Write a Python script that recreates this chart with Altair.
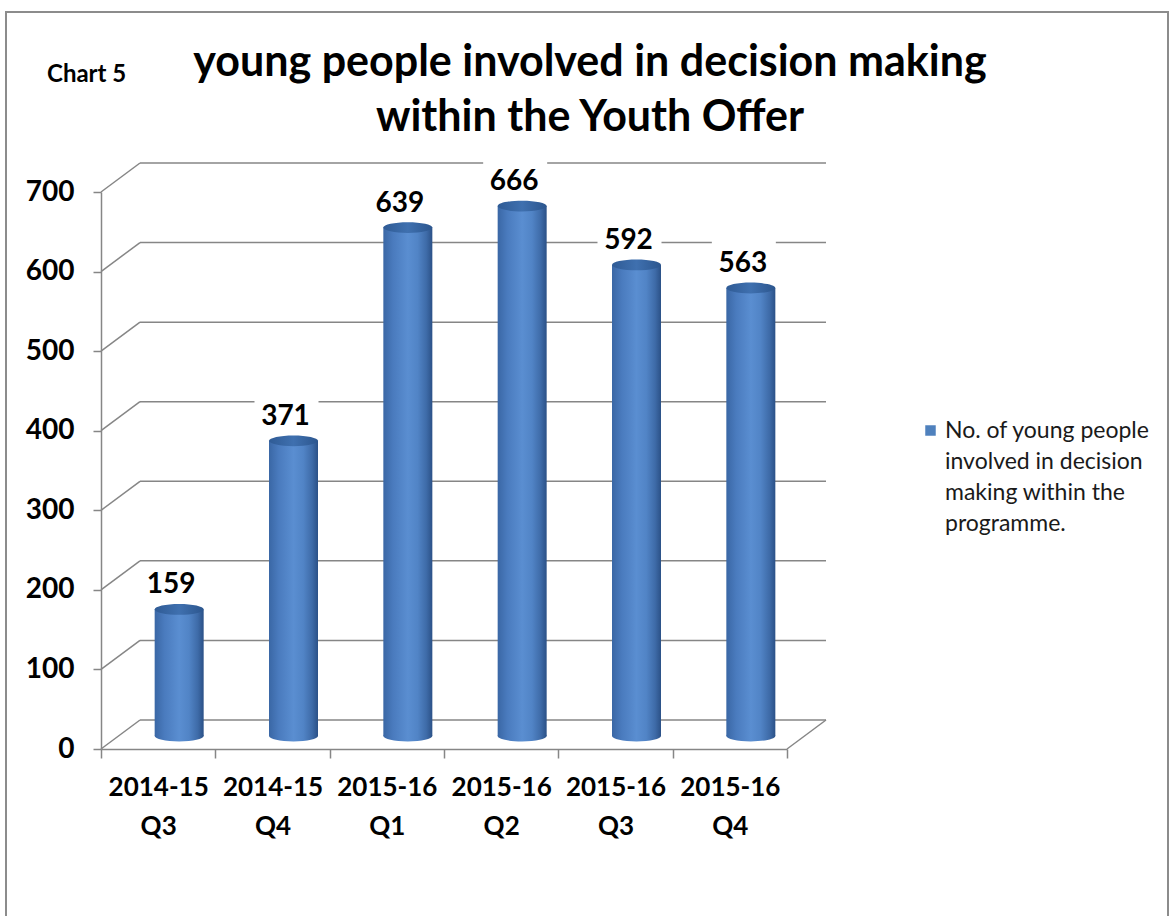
import json
import altair as alt
import pandas as pd

# ---------------- data ----------------
categories = ["2014-15 Q3", "2014-15 Q4", "2015-16 Q1", "2015-16 Q2", "2015-16 Q3", "2015-16 Q4"]
values = [159, 371, 639, 666, 592, 563]
series_lines = ["No. of young people", "involved in decision", "making within the", "programme."]
series_name = " ".join(series_lines)
y_ticks = [0, 100, 200, 300, 400, 500, 600, 700]
title_lines = ["young people involved in decision making", "within the Youth Offer"]
chart_label = ["Chart 5"]

# ---------------- layout / style ----------------
W, H = 686, 557
PAD_L, PAD_T = 101, 192
DX, DY = 39, -29      # depth of the 3-D back wall
BX, BY = 21, -13      # bars sit half way into the depth
BAR_W = 49
GRID = "#868686"
FONT = "Lato"
LBL_DY = -11          # guide-label shift (lets legend text line up with its swatch)

df = pd.DataFrame({"cat": categories, "value": values, "series": series_name})
ticks = pd.DataFrame({"v": y_ticks})
labels_df = pd.DataFrame({"t": chart_label})

yscale = alt.Scale(domain=[0, 700], nice=False, zero=True)
xscale = alt.Scale(domain=categories, paddingInner=0, paddingOuter=0)

y_axis = alt.Axis(
    values=y_ticks, labelFont=FONT, labelFontSize=28, labelFontWeight="bold",
    labelColor="#000000", labelPadding=19, labelOffset=-LBL_DY, tickSize=8,
    tickColor=GRID, tickWidth=1.5, domainColor=GRID, domainWidth=1.5, grid=False,
)
x_axis = alt.Axis(
    labelExpr="split(datum.label, ' ')", labelAngle=0,
    labelFont=FONT, labelFontSize=26, labelFontWeight="bold", labelColor="#000000",
    labelLineHeight=39, labelPadding=16 - LBL_DY, tickBand="extent", tickSize=9,
    tickColor=GRID, tickWidth=1.5, domainColor=GRID, domainWidth=1.5, grid=False,
)

x_enc = alt.X("cat:N", sort=categories, scale=xscale, title=None, axis=x_axis)
y_val = alt.Y("value:Q", scale=yscale, title=None, axis=y_axis)
y_tick = alt.Y("v:Q", scale=yscale, title=None, axis=y_axis)

bar_grad = alt.LinearGradient(
    gradient="linear", x1=0, x2=1, y1=0, y2=0,
    stops=[
        alt.GradientStop(offset=0.0, color="#3A67A5"),
        alt.GradientStop(offset=0.2, color="#4A7BBE"),
        alt.GradientStop(offset=0.5, color="#5A8ED1"),
        alt.GradientStop(offset=0.7, color="#5184C6"),
        alt.GradientStop(offset=0.88, color="#3E6BA8"),
        alt.GradientStop(offset=1.0, color="#2B5187"),
    ],
)
cap_grad = alt.LinearGradient(
    gradient="linear", x1=0, x2=1, y1=0, y2=0,
    stops=[
        alt.GradientStop(offset=0.0, color="#2F5B95"),
        alt.GradientStop(offset=0.5, color="#3F70AF"),
        alt.GradientStop(offset=1.0, color="#2C568E"),
    ],
)
ELLIPSE = "M-1,0A1,0.22,0,1,0,1,0A1,0.22,0,1,0,-1,0Z"
BOX = "M-1,-0.72H1V0.72H-1Z"

# back wall gridlines
grid_back = alt.Chart(ticks).mark_rule(color=GRID, strokeWidth=1.5, yOffset=DY).encode(
    y=y_tick, x=alt.value(DX), x2=alt.value(W + DX),
)
# side-wall diagonals
grid_side = alt.Chart(ticks).mark_rule(color=GRID, strokeWidth=1.5, y2Offset=DY).encode(
    y=y_tick, y2="v:Q", x=alt.value(0), x2=alt.value(DX),
)
# floor right edge
floor_edge = alt.Chart(ticks).transform_filter("datum.v == 0").mark_rule(
    color=GRID, strokeWidth=1.5, y2Offset=DY
).encode(
    y=y_tick, y2="v:Q", x=alt.value(W), x2=alt.value(W + DX),
)

base = alt.Chart(df)

# hidden point (under the bars) that carries the legend
legend_pts = base.mark_point(filled=True, size=1, xOffset=BX, yOffset=BY).encode(
    x=x_enc, y=y_val,
    color=alt.Color(
        "series:N", scale=alt.Scale(range=["#4F81BD"]), title=None,
        legend=alt.Legend(
            orient="none", legendX=818, legendY=227, symbolType="square",
            symbolSize=110, symbolStrokeWidth=0, symbolOpacity=1,
            labelFont=FONT, labelFontSize=23, labelColor="#1a1a1a",
            labelLimit=400, labelExpr=json.dumps(series_lines),
            labelBaseline="top", labelOffset=3,
        ),
    ),
)

label_bg = base.mark_point(
    shape=BOX, size=64 * 64, filled=True, fill="white", opacity=1, strokeWidth=0,
    xOffset=BX - 7, yOffset=BY - 24,
).encode(x=x_enc, y=y_val)

bars = base.mark_bar(
    width=BAR_W, color=bar_grad, xOffset=BX, yOffset=BY, y2Offset=BY,
).encode(x=x_enc, y=y_val)

bottom_cap = base.mark_point(
    shape=ELLIPSE, size=BAR_W * BAR_W, filled=True, fill=bar_grad, opacity=1,
    strokeWidth=0, xOffset=BX, yOffset=BY,
).encode(x=x_enc, y=alt.datum(0, scale=yscale))

top_cap = base.mark_point(
    shape=ELLIPSE, size=BAR_W * BAR_W, filled=True, fill=cap_grad, opacity=1,
    strokeWidth=0, xOffset=BX, yOffset=BY,
).encode(x=x_enc, y=y_val)

value_text = base.mark_text(
    font=FONT, fontSize=28, fontWeight="bold", color="#000000",
    baseline="middle", align="center", dx=BX - 8, dy=BY - 24,
).encode(x=x_enc, y=y_val, text=alt.Text("value:Q"))

chart_tag = alt.Chart(labels_df).mark_text(
    font=FONT, fontSize=24, fontWeight="bold", color="#000000", align="left",
    baseline="alphabetic",
).encode(x=alt.value(47 - PAD_L), y=alt.value(82 - PAD_T), text="t:N")

title_text = alt.Chart(labels_df).mark_text(
    font=FONT, fontSize=43, fontWeight="bold", color="#000000", align="center",
    baseline="alphabetic", lineHeight=55,
).encode(x=alt.value(590 - PAD_L), y=alt.value(76 - PAD_T), text=alt.value(title_lines))

frame = alt.Chart(labels_df).mark_rect(
    filled=False, stroke="#8C8C8C", strokeWidth=2,
).encode(
    x=alt.value(6 - PAD_L), x2=alt.value(1168 - PAD_L),
    y=alt.value(12 - PAD_T), y2=alt.value(960 - PAD_T),
)

chart = alt.layer(
    frame, grid_back, grid_side, floor_edge, label_bg, legend_pts,
    bottom_cap, bars, top_cap, value_text, chart_tag, title_text,
).properties(
    width=W, height=H,
    autosize=alt.AutoSizeParams(type="none"),
    padding={"left": PAD_L, "top": PAD_T, "right": 1172 - PAD_L - W, "bottom": 916 - PAD_T - H},
    background="white",
).configure(
    view=alt.ViewConfig(stroke="transparent"),
    style={"guide-label": {"dy": LBL_DY, "lineHeight": 31}},
)

chart.save("out.html", embed_options={"renderer": "svg", "actions": False})
